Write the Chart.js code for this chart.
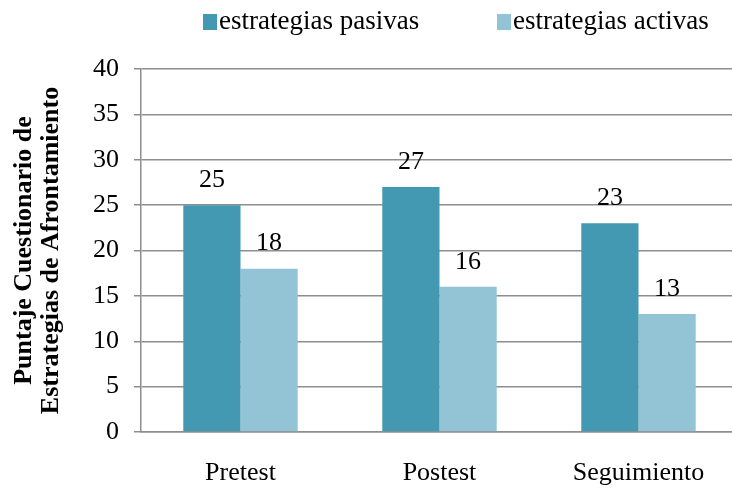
<!DOCTYPE html>
<html>
<head>
<meta charset="utf-8">
<script src="https://cdn.jsdelivr.net/npm/chart.js@4/dist/chart.umd.min.js"></script>
<style>
  html, body { margin: 0; padding: 0; background: #fff; overflow: hidden; }
  #wrap { width: 738px; height: 489px; }
</style>
</head>
<body>
<div id="wrap"><canvas id="chart"></canvas></div>
<script>
const categories = ['Pretest', 'Postest', 'Seguimiento'];
const pasivas = [25, 27, 23];
const activas = [18, 16, 13];
const yTicks = [0, 5, 10, 15, 20, 25, 30, 35, 40];

const serif = '"Liberation Serif", "Times New Roman", serif';
const gridColor = '#8e8e8e';

// numbers above each bar
const valueLabels = {
    id: 'valueLabels',
    afterDatasetsDraw(chart) {
        const c = chart.ctx;
        c.save();
        c.font = '26px ' + serif;
        c.fillStyle = '#000';
        c.textAlign = 'center';
        c.textBaseline = 'middle';
        chart.data.datasets.forEach((ds, i) => {
            chart.getDatasetMeta(i).data.forEach((bar, j) => {
                c.fillText(ds.data[j], bar.x, bar.y - 25);
            });
        });
        c.restore();
    }
};

// legend drawn by hand so the spacing matches
const topLegend = {
    id: 'topLegend',
    afterDraw(chart) {
        const c = chart.ctx;
        c.save();
        c.font = '27px ' + serif;
        c.textBaseline = 'middle';
        const starts = [203, 497];
        chart.data.datasets.forEach((ds, i) => {
            const x = starts[i];
            c.fillStyle = ds.backgroundColor;
            c.fillRect(x, 14, 14, 16);
            c.fillStyle = '#000';
            c.fillText(ds.label, x + 16, 22);
        });
        c.restore();
    }
};

const ctx = document.getElementById('chart');

new Chart(ctx, {
    type: 'bar',
    data: {
        labels: categories,
        datasets: [
            { label: 'estrategias pasivas', data: pasivas, backgroundColor: '#4399b1' },
            { label: 'estrategias activas', data: activas, backgroundColor: '#93c4d6' }
        ]
    },
    options: {
        responsive: true,
        maintainAspectRatio: false,
        animation: false,
        layout: { padding: { top: 69, left: 0, right: 0, bottom: 0 } },
        plugins: {
            legend: { display: false },
            tooltip: { enabled: false }
        },
        datasets: {
            bar: { categoryPercentage: 0.575, barPercentage: 1.0 }
        },
        scales: {
            x: {
                grid: { display: false },
                border: { display: true, color: gridColor, width: 1.5 },
                ticks: { color: '#000', font: { family: serif, size: 26 }, padding: 18 },
                afterFit(scale) { scale.height = 57; }
            },
            y: {
                min: 0,
                max: 40,
                afterBuildTicks(scale) { scale.ticks = yTicks.map(v => ({ value: v })); },
                grid: { color: gridColor, lineWidth: 1.5, tickLength: 7 },
                border: { display: true, color: gridColor, width: 1.5 },
                ticks: { color: '#000', font: { family: serif, size: 26 }, padding: 15 },
                title: {
                    display: true,
                    text: ['Puntaje Cuestionario de', 'Estrategias de Afrontamiento'],
                    color: '#000',
                    font: { family: serif, size: 26, weight: 'bold', lineHeight: 1.04 },
                    padding: { top: 11, bottom: 6 }
                },
                afterFit(scale) { scale.width = 141; }
            }
        }
    },
    plugins: [valueLabels, topLegend]
});
</script>
</body>
</html>
